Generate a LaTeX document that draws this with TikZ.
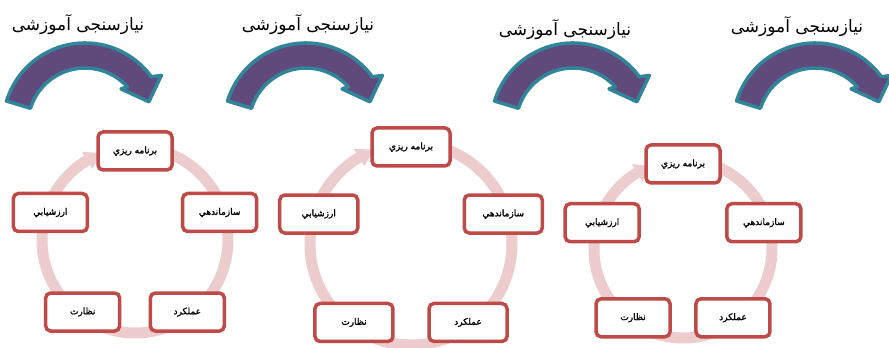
\documentclass[tikz,border=0pt]{standalone}
\usepackage{fontspec}
\usepackage{tikz}
\setmainfont{DejaVu Sans}
\newfontfamily\arabicfont[Script=Arabic]{DejaVu Sans}
\newfontfamily\stagefont[Script=Arabic,FakeBold=1.5]{DejaVu Sans}
\TeXXeTstate=1
\definecolor{needpurple}{RGB}{96, 74, 123}
\definecolor{needteal}{RGB}{49, 133, 155}
\definecolor{boxred}{RGB}{190, 75, 72}
\definecolor{ringpink}{RGB}{236, 204, 204}

\begin{document}
\begin{tikzpicture}[x=1pt,y=1pt,
  needarrow/.style={fill=needpurple, draw=needteal, line width=3.5pt, line join=round},
  needlabel/.style={font=\arabicfont\fontsize{17}{20}\selectfont},
  ringband/.style={draw=ringpink, line width=11pt},
  stagebox/.style={draw=boxred, line width=3.5pt, rounded corners=5pt, fill=white,
    minimum width=#1, minimum height=38pt, inner sep=1pt,
    font=\stagefont\fontsize{9}{11}\selectfont}]
\clip (0,0) rectangle (889,348);

% Arrows with titles along the top
\foreach \cx/\lx/\ly [count=\i] in {85/78/323, 306/308/323, 573/565/318, 815/797/321} {
  \begin{scope}[shift={(\cx,223)}]
    \filldraw[needarrow] (163:82) arc[start angle=163, end angle=36, radius=82]
      -- (33:91) -- (20:68) -- (45:51) -- (42:57)
      arc[start angle=42, end angle=163, radius=57] -- cycle;
  \end{scope}
  \node[needlabel] (need\i) at (\lx,\ly) {\beginR نیازسنجی آموزشی\endR};
}

% The three management cycles
\foreach \cx/\cy/\r/\w [count=\j] in {135/108/89/74pt, 411/104/97/78pt, 683/99/85/74pt} {
  \begin{scope}[shift={(\cx,\cy)}]
    \draw[ringband] (80:\r+4) arc[start angle=80, end angle=-240, radius=\r+4];
    \fill[ringpink] (121:\r-6) -- (121:\r+14) -- (111:\r+4) -- cycle;
    \foreach \a/\t [count=\k] in {90/برنامه ريزي, 18/سازماندهي, -54/عملکرد,
        -126/نظارت, 162/ارزشيابي} {
      \node[stagebox=\w] (stage\j-\k) at (\a:\r) {\beginR\t\endR};
    }
  \end{scope}
}
\end{tikzpicture}
\end{document}
